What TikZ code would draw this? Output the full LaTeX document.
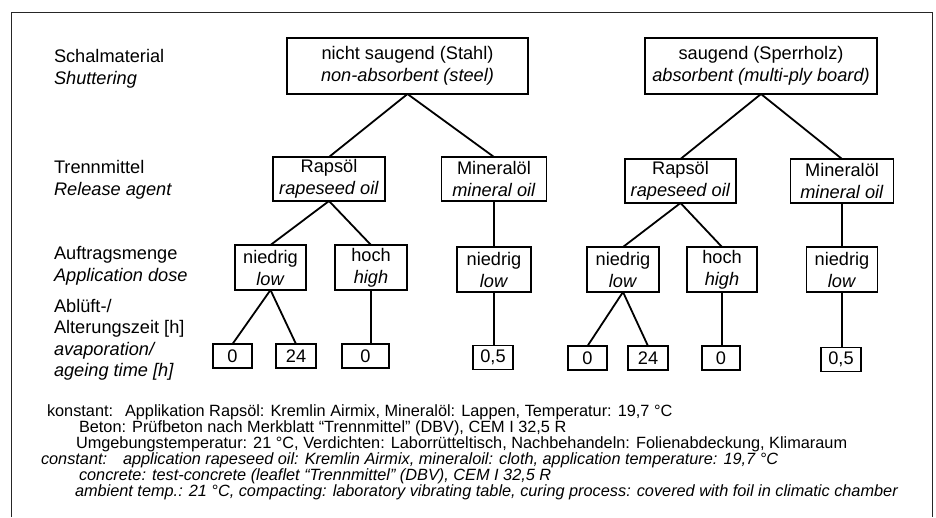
\documentclass[tikz,border=0pt]{standalone}
\usepackage{fontspec}
\setmainfont{Liberation Sans}
\begin{document}
\begin{tikzpicture}[x=1pt,y=-1pt,
  every node/.style={inner sep=0pt, outer sep=0pt},
  txt/.style={font=\fontsize{18.2}{22}\selectfont},
  box/.style={txt, draw, line width=1.8pt, align=center},
  lvA/.style={box, minimum height=56pt},
  lvB/.style={box, minimum height=44pt},
  lvC/.style={box, minimum height=45pt},
  lvD/.style={box, minimum height=24pt},
  conn/.style={line width=1.8pt},
  lbl/.style={txt, anchor=west, align=left},
  note/.style={anchor=base west, font=\fontsize{16.3}{16}\selectfont},
  inote/.style={note, font=\fontsize{16.3}{16}\selectfont\itshape}]
\useasboundingbox (0,0) rectangle (936,517);
\fill[white] (0,0) rectangle (936,517);
\draw[line width=1.3pt, black!85] (11.5,517) -- (11.5,12.5) -- (932.5,12.5) -- (932.5,517);

% left labels
\node[lbl] (l1) at (54,69) {Schalmaterial\\\textit{Shuttering}};
\node[lbl] (l2) at (54,179.5) {Trennmittel\\\textit{Release agent}};
\node[lbl] (l3) at (54,266) {Auftragsmenge\\\textit{Application dose}};
\node[lbl, font=\fontsize{18.2}{21.5}\selectfont] (l4) at (54,340) {Abl\"uft-/\\Alterungszeit [h]\\\textit{avaporation/}\\\textit{ageing time [h]}};

% level 1
\node[lvA, minimum width=241pt] (s1) at (407.5,66) {nicht saugend (Stahl)\\\textit{non-absorbent (steel)}};
\node[lvA, minimum width=232pt] (s2) at (761,66) {saugend (Sperrholz)\\\textit{absorbent (multi-ply board)}};

% level 2
\node[lvB, minimum width=112pt] (r1) at (329,179) {Raps\"ol\\\textit{rapeseed oil}};
\node[lvB, minimum width=105pt] (m1) at (494,179) {Mineral\"ol\\\textit{mineral oil}};
\node[lvB, minimum width=111pt] (r2) at (680.5,181) {Raps\"ol\\\textit{rapeseed oil}};
\node[lvB, minimum width=103pt] (m2) at (842,181) {Mineral\"ol\\\textit{mineral oil}};

% level 3
\node[lvC, minimum width=71pt] (n1) at (270.5,267.5) {niedrig\\\textit{low}};
\node[lvC, minimum width=72pt] (h1) at (371,267.5) {hoch\\\textit{high}};
\node[lvC, minimum width=74pt] (nm1) at (494,269.5) {niedrig\\\textit{low}};
\node[lvC, minimum width=72pt] (n2) at (623,269.5) {niedrig\\\textit{low}};
\node[lvC, minimum width=70pt] (h2) at (722,269.5) {hoch\\\textit{high}};
\node[lvC, minimum width=71pt] (nm2) at (842,269.5) {niedrig\\\textit{low}};

% level 4
\node[lvD, minimum width=39pt] (a0) at (232.5,356) {0};
\node[lvD, minimum width=40pt] (a24) at (296,356) {24};
\node[lvD, minimum width=47pt] (ah0) at (365.5,356) {0};
\node[lvD, minimum width=40pt] (am) at (493,357.5) {0,5};
\node[lvD, minimum width=39pt] (b0) at (587.5,358) {0};
\node[lvD, minimum width=40pt] (b24) at (648,358) {24};
\node[lvD, minimum width=38pt] (bh0) at (721,358) {0};
\node[lvD, minimum width=40pt] (bm) at (841,359.5) {0,5};

% connectors
\draw[conn] (s1.south) -- (r1.north);
\draw[conn] (s1.south) -- (m1.north);
\draw[conn] (s2.south) -- (r2.north);
\draw[conn] (s2.south) -- (m2.north);
\draw[conn] (r1.south) -- (n1.north);
\draw[conn] (r1.south) -- (h1.north);
\draw[conn] (m1.south) -- (m1.south |- nm1.north);
\draw[conn] (r2.south) -- (n2.north);
\draw[conn] (r2.south) -- (h2.north);
\draw[conn] (m2.south) -- (m2.south |- nm2.north);
\draw[conn] (n1.south) -- (a0.north);
\draw[conn] (n1.south) -- (a24.north);
\draw[conn] (h1.south) -- (h1.south |- ah0.north);
\draw[conn] (nm1.south) -- (nm1.south |- am.north);
\draw[conn] (n2.south) -- (b0.north);
\draw[conn] (n2.south) -- (b24.north);
\draw[conn] (h2.south) -- (h2.south |- bh0.north);
\draw[conn] (nm2.south) -- (nm2.south |- bm.north);

% notes
\node[note] (k1) at (47,416) {konstant:};
\node[note] (k1b) at (125,416) {Applikation Raps\"ol: Kremlin Airmix, Mineral\"ol: Lappen, Temperatur: 19,7 °C};
\node[note] (k2) at (79,432) {Beton: Pr\"ufbeton nach Merkblatt “Trennmittel” (DBV), CEM I 32,5 R};
\node[note] (k3) at (76,448) {Umgebungstemperatur: 21 °C, Verdichten: Laborr\"utteltisch, Nachbehandeln: Folienabdeckung, Klimaraum};
\node[inote] (c1) at (41,464) {constant:};
\node[inote] (c1b) at (123,464) {application rapeseed oil: Kremlin Airmix, mineraloil: cloth, application temperature: 19,7 °C};
\node[inote] (c2) at (79,480) {concrete: test-concrete (leaflet “Trennmittel” (DBV), CEM I 32,5 R};
\node[inote] (c3) at (75,496) {ambient temp.: 21 °C, compacting: laboratory vibrating table, curing process: covered with foil in climatic chamber};
\end{tikzpicture}
\end{document}
